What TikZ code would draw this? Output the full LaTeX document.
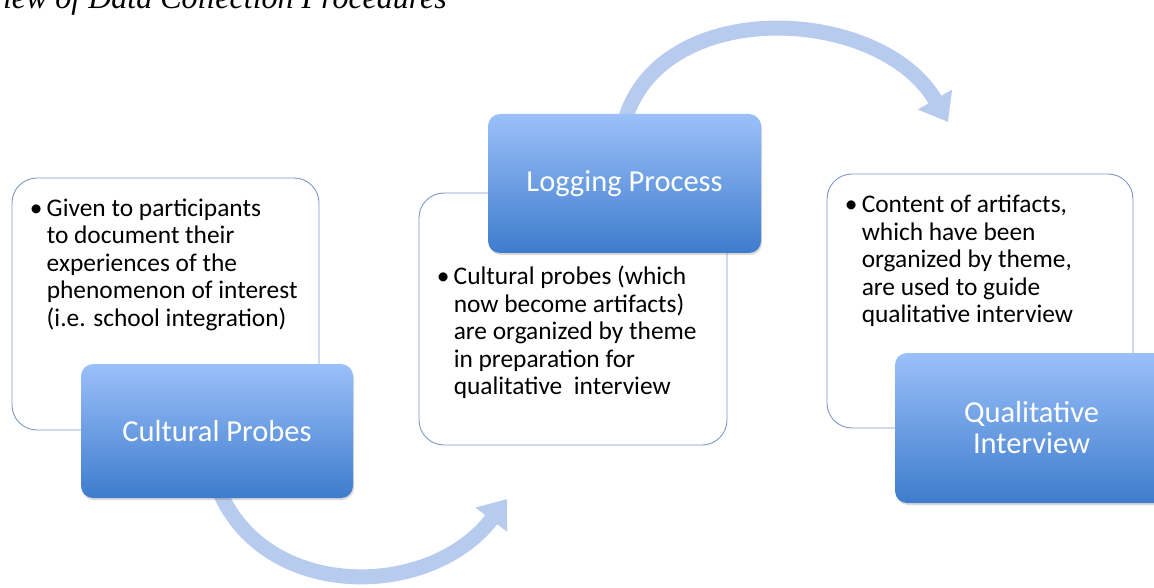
\documentclass[tikz,border=0pt]{standalone}
\usepackage{fontspec}
\setmainfont{Carlito}
\newfontfamily\titlefont{Liberation Serif}
\usetikzlibrary{positioning,arrows.meta,shadows,backgrounds}
\definecolor{boxline}{RGB}{125,152,200}
\definecolor{bluetop}{RGB}{155,192,250}
\definecolor{bluebot}{RGB}{62,124,204}
\definecolor{arrowblue}{RGB}{183,203,238}
\tikzset{
    notebox/.style={
    rectangle,rounded corners=25pt,draw=boxline,fill=white,line width=0.9pt
    },
    stagebox/.style={
    rectangle,rounded corners=12pt,top color=bluetop,bottom color=bluebot,text=white,align=center,
    font=\fontsize{30.5}{31}\selectfont,
    drop shadow={opacity=0.3,shadow xshift=1pt,shadow yshift=-2pt}
    },
    notetext/.style={anchor=base west,inner sep=0pt,font=\fontsize{25.4}{27.5}\selectfont},
  flow/.style={draw=arrowblue,line width=15pt,-{Triangle[length=26pt,width=38pt]}},
}
\newcommand{\bulletnote}[1]{\begin{tabular}[t]{@{}p{17pt}@{}l@{}}\textbullet & #1\end{tabular}}

\begin{document}
\begin{tikzpicture}[x=1pt,y=-1pt]
\useasboundingbox (0,0) rectangle (1154,588);

  \node[anchor=base east,inner sep=0pt,font=\titlefont\itshape\fontsize{32}{38}\selectfont] (title) at (447,9) {iew of Data Collection Procedures};

  % notes first, the stages lie on top of them
  \node[notebox,minimum width=307pt,minimum height=252pt] (note1) at (165.5,304) {};
  \node[notebox,minimum width=308pt,minimum height=252pt] (note2) at (573,319) {};
  \node[notebox,minimum width=306pt,minimum height=254pt] (note3) at (980,301) {};

  \node[notetext,xshift=18pt,yshift=-38.7pt] (text1) at (note1.north west) {\bulletnote{Given to participants\\ & to document their\\ & experiences of the\\ & phenomenon of interest\\ & (i.e. school integration)}};
  \node[notetext,xshift=18pt,yshift=-92pt] (text2) at (note2.north west) {\bulletnote{Cultural probes (which\\ & now become artifacts)\\ & are organized by theme\\ & in preparation for\\ & qualitative\ \ interview}};
  \node[notetext,xshift=18pt,yshift=-39pt] (text3) at (note3.north west) {\bulletnote{Content of artifacts,\\ & which have been\\ & organized by theme,\\ & are used to guide\\ & qualitative interview}};

  \node[stagebox,minimum width=272pt,minimum height=134pt] (probes) at (217,431) {Cultural Probes};
  \node[stagebox,minimum width=273pt,minimum height=139pt] (logging) at (624.5,183.5) {Logging Process};
  \node[stagebox,minimum width=273pt,minimum height=150pt] (interview) at (1031.5,428) {Qualitative\\Interview};

  \begin{scope}[on background layer]
  \coordinate (tip1) at (507,499);
  \coordinate (tip2) at (948,122);
  \path[flow] ([xshift=2pt,yshift=8pt]probes.south) .. controls +(46,111) and +(-77,101) .. (tip1);
  \path[flow] ([xshift=0pt,yshift=-8pt]logging.north) .. controls +(35,-126) and +(-68,-117) .. (tip2);
  \end{scope}
\end{tikzpicture}
\end{document}
